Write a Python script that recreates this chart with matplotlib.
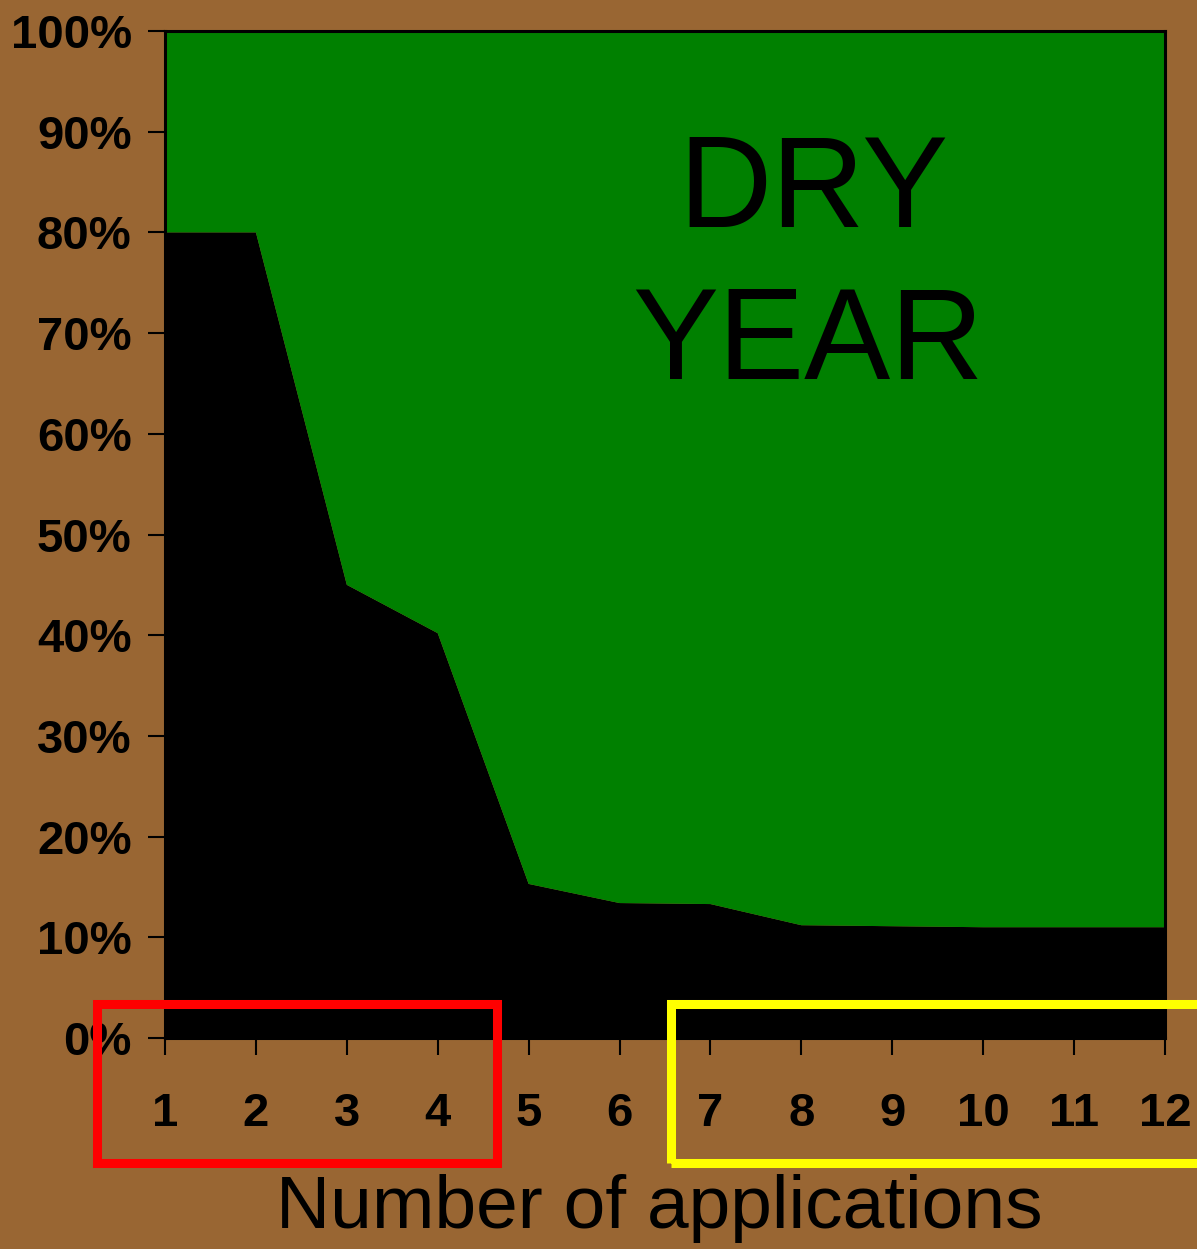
import matplotlib
matplotlib.use("Agg")
import matplotlib.pyplot as plt
from matplotlib.patches import Rectangle
from matplotlib.ticker import FuncFormatter

applications = [1, 2, 3, 4, 5, 6, 7, 8, 9, 10, 11, 12]
black_share = [80, 80, 45, 40.2, 15.3, 13.4, 13.3, 11.2, 11.1, 11.0, 11.0, 11.0]
green_share = [100 - v for v in black_share]
y_ticks = [0, 10, 20, 30, 40, 50, 60, 70, 80, 90, 100]

BROWN = "#996633"
GREEN = "#008000"

W, H = 1197, 1249
fig = plt.figure(figsize=(W / 100, H / 100), dpi=100, facecolor=BROWN)
ax = fig.add_axes([165 / W, 1 - 1038 / H, 1000 / W, 1007 / H])
ax.set_facecolor(BROWN)

ax.stackplot(applications, black_share, green_share, colors=["black", GREEN],
             linewidth=0)
ax.set_xlim(1, 12)
ax.set_ylim(0, 100)
ax.set_xticks(applications)
ax.set_yticks(y_ticks)
ax.yaxis.set_major_formatter(FuncFormatter(lambda v, p: f"{int(v)}%"))

for lab in ax.get_xticklabels() + ax.get_yticklabels():
    lab.set_fontfamily("Liberation Sans")
    lab.set_fontweight("bold")
    lab.set_fontsize(34)
ax.tick_params(axis="x", direction="out", length=12, width=1.5, pad=27, colors="black")
ax.tick_params(axis="y", direction="out", length=12, width=1.5, pad=12, colors="black")
for s in ax.spines.values():
    s.set_linewidth(2.2)
    s.set_color("black")

ax.text(0.648, (1038 - 227) / 1007, "DRY", transform=ax.transAxes, ha="center",
        va="baseline", family="Liberation Sans", size=93, color="black")
ax.text(0.643, (1038 - 379) / 1007, "YEAR", transform=ax.transAxes, ha="center",
        va="baseline", family="Liberation Sans", size=93, color="black")

fig.text(659 / W, 1 - 1228 / H, "Number of applications", ha="center",
         va="baseline", family="Liberation Sans", size=54, color="black")

# highlight boxes (figure pixel coordinates)
def box(x0, y0, x1, y1, color):
    r = Rectangle((x0 / W, 1 - y1 / H), (x1 - x0) / W, (y1 - y0) / H,
                  transform=fig.transFigure, fill=False, edgecolor=color,
                  linewidth=6.5, zorder=10, clip_on=False)
    fig.add_artist(r)

box(97, 1004, 497, 1163, "#FF0000")
box(671, 1004, 1215, 1163, "#FFFF00")

fig.savefig("out.png", dpi=100, facecolor=BROWN)
